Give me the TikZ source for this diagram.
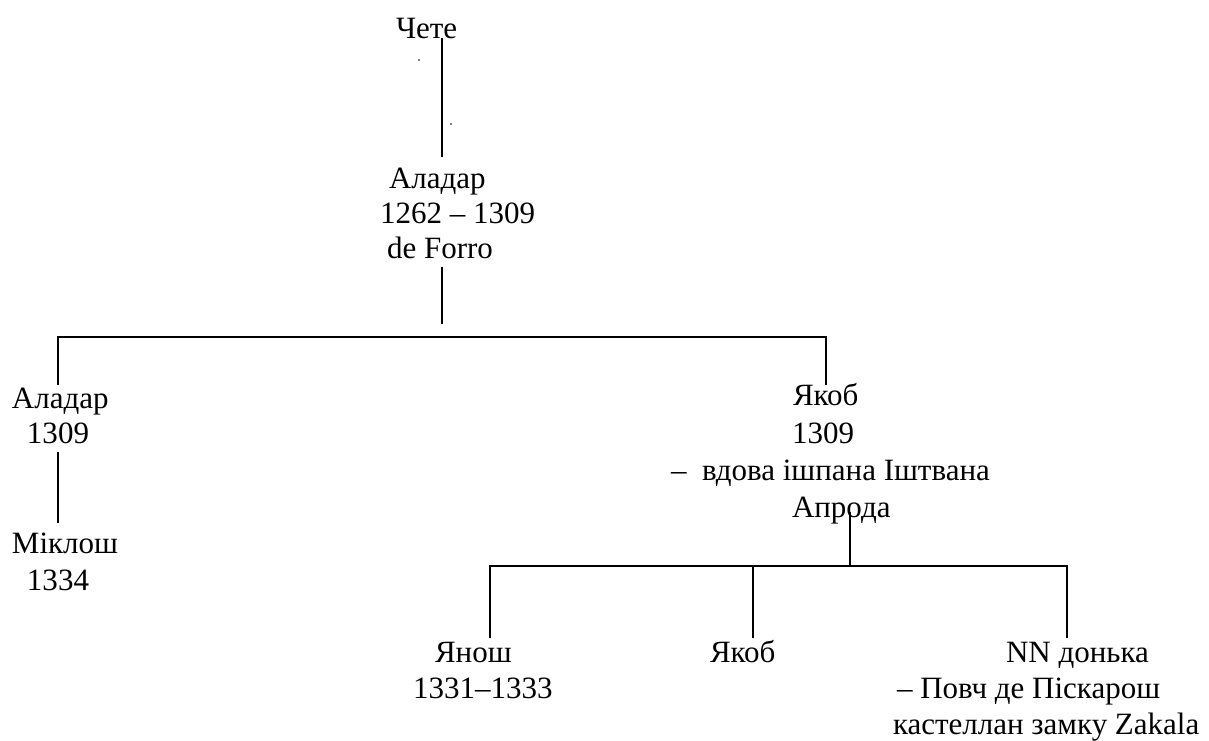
\documentclass[tikz,border=0pt]{standalone}
\usepackage{fontspec}
\setmainfont{Liberation Serif}
\begin{document}
\begin{tikzpicture}[x=1pt,y=-1pt,
  lbl/.style={anchor=base west,inner sep=0pt,outer sep=0pt,font=\fontsize{31}{37}\selectfont},
  link/.style={line width=1.6pt},
  thick link/.style={line width=2.4pt}]
\useasboundingbox (0,0) rectangle (1209,740);
% texts
\node[lbl] (chete) at (396,38) {Чете};
\node[lbl] (alad1) at (389,188) {Аладар};
\node[lbl] (alad1y) at (380,223) {1262 – 1309};
\node[lbl] (alad1f) at (387,258) {de Forro};
\node[lbl] (alad2) at (12,408) {Аладар};
\node[lbl] (alad2y) at (27,443) {1309};
\node[lbl] (mikl) at (12,553) {Міклош};
\node[lbl] (mikly) at (27,590) {1334};
\node[lbl] (jak1) at (793,405) {Якоб};
\node[lbl] (jak1y) at (792,443) {1309};
\node[lbl] (jak1w) at (671,480) {–\ \ вдова ішпана Іштвана};
\node[lbl] (jak1a) at (792,517) {Апрода};
\node[lbl] (janos) at (435,662) {Янош};
\node[lbl] (janosy) at (413,698) {1331–1333};
\node[lbl] (jak2) at (710,662) {Якоб};
\node[lbl] (nn) at (1006,662) {NN донька};
\node[lbl] (nn1) at (897,698) {– Повч де Піскарош};
\node[lbl] (nn2) at (893,734) {кастеллан замку Zakala};
% tiny dots
\fill (419,60) circle (0.8);
\fill (451,124) circle (0.8);
% connector coordinates
\coordinate (c1) at (442,38);
\coordinate (c2) at (442,157);
\coordinate (c3) at (442,267);
\coordinate (c4) at (442,324);
\coordinate (hL) at (58,337);
\coordinate (hR) at (826,337);
\coordinate (l1) at (58,385);
\coordinate (r1) at (826,385);
\coordinate (l2) at (58,452);
\coordinate (l3) at (58,523);
\coordinate (j1) at (850,512);
\coordinate (j2) at (850,566);
\coordinate (bL) at (490,566);
\coordinate (bR) at (1067,566);
\coordinate (bM) at (753,566);
\coordinate (d1) at (490,638);
\coordinate (d2) at (753,638);
\coordinate (d3) at (1067,638);
% connectors
\draw[thick link] (c1) -- (c2);
\draw[link] (c3) -- (c4);
\draw[link] (l1) -- (hL) -- (hR) -- (r1);
\draw[link] (l2) -- (l3);
\draw[link] (j1) -- (j2);
\draw[link] (d1) -- (bL) -- (bR) -- (d3);
\draw[link] (bM) -- (d2);
\end{tikzpicture}
\end{document}
